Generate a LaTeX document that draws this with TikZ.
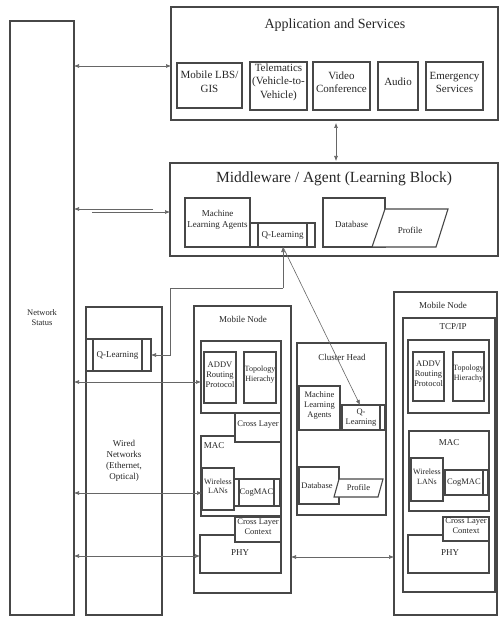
\documentclass[tikz,border=0pt]{standalone}
\usepackage{fontspec}
\setmainfont{Liberation Serif}
\usetikzlibrary{arrows.meta,fit}
\newcommand\fs[2]{\fontsize{#1}{#2}\selectfont}
\tikzset{
 bx/.style={draw=black!72, line width=1.1pt, inner sep=0pt, outer sep=0pt, align=center, fill=white, text=black!85, font=\fs{8.5}{10}},
 con/.style={draw=black!60, line width=0.6pt},
 dar/.style={con, {Latex[length=5pt,width=4pt]}-{Latex[length=5pt,width=4pt]}},
 sar/.style={con, -{Latex[length=5pt,width=4pt]}},
 lbl/.style={inner sep=0pt, text=black!85, align=center, font=\fs{9}{11}},
 ppl/.style={draw=black!72, line width=1.1pt},
 para/.style={draw=black!72, line width=1.1pt, fill=white},
}
\newcommand\bx[7][]{\node[bx,#1,fit={(#3,#4) (#5,#6)}] (#2) {#7};}
\newcommand\pp[3]{\draw[ppl] ([xshift=#2pt]#1.north west) -- ([xshift=#2pt]#1.south west);
  \draw[ppl] ([xshift=-#3pt]#1.north east) -- ([xshift=-#3pt]#1.south east);}
\begin{document}
\begin{tikzpicture}[x=1pt,y=-1pt]
\useasboundingbox (0,0) rectangle (499,617);
% Network status
\bx{ns}{10}{21}{74}{615}{}
\node[lbl,font=\fs{8.5}{10}] (nslab) at (42,318) {Network\\Status};
% Application and services
\bx{app}{171}{7}{498}{120}{}
\node[lbl,font=\fs{14}{16}] (apptitle) at (335,25) {Application and Services};
\bx[font=\fs{11}{13.5}]{lbs}{177}{63}{242}{108}{Mobile LBS/\\GIS}
\bx[font=\fs{11}{13.5}]{tel}{250}{62}{307}{110}{Telematics\\(Vehicle-to-\\Vehicle)}
\bx[font=\fs{11}{13.5}]{vid}{313}{62}{370}{110}{Video\\Conference}
\bx[font=\fs{11}{13.5}]{aud}{378}{62}{418}{110}{Audio}
\bx[font=\fs{11}{13.5}]{emg}{426}{62}{483}{110}{Emergency\\Services}
% Middleware
\bx{mw}{170}{163}{498}{256}{}
\node[lbl,font=\fs{15.5}{18}] (mwtitle) at (334,179) {Middleware / Agent (Learning Block)};
\bx[font=\fs{9}{11}]{mlam}{185}{198}{250}{247}{Machine\\Learning Agents}
\bx{qlm}{250}{223}{315}{247}{}
\pp{qlm}{8}{8}
\node[lbl] (qlmlab) at (282.5,235) {Q-Learning};
\bx{dbm}{323}{198}{385}{247}{}
\node[lbl] (dbmlab) at (351.5,224) {Database};
\draw[para] (385,209) -- (448,209) -- (436,247) -- (372,247) -- cycle;
\node[lbl] (profm) at (410,230) {Profile};
% Wired networks
\bx{wired}{86}{307}{162}{615}{}
\node[lbl,font=\fs{9}{11}] (wiredlab) at (124,461) {Wired\\Networks\\(Ethernet,\\Optical)};
\bx{qlw}{86}{339}{151}{371}{}
\pp{qlw}{7}{9}
\node[lbl] (qlwlab) at (117.5,355) {Q-Learning};
% Left mobile node
\bx{mnL}{194}{306}{291}{593}{}
\node[lbl] (mnLlab) at (243,319) {Mobile Node};
\bx{tcpL}{201}{341}{281}{413}{}
\bx{addvL}{204}{352}{236}{403}{ADDV\\Routing\\Protocol}
\bx[font=\fs{8}{9.5}]{topoL}{244}{352}{276}{403}{Topology\\Hierachy}
\bx{macL}{201}{436}{281}{516}{}
\bx{clL}{235}{413}{281}{442}{Cross Layer}
\node[lbl] (macLlab) at (214,446) {MAC};
\bx{phyL}{200}{535}{281}{573}{}
\node[lbl] (phyLlab) at (240,553) {PHY};
\bx{clcL}{235}{517}{281}{542}{Cross Layer\\Context}
\bx{cogL}{233}{479}{280}{506}{}
\pp{cogL}{6}{6}
\node[lbl,font=\fs{8.5}{10}] (cogLlab) at (256.5,492.5) {CogMAC};
\bx[font=\fs{8}{9.5}]{wlL}{202}{468}{234}{510}{Wireless\\LANs}
% Cluster head
\bx{ch}{297}{343}{386}{515}{}
\node[lbl] (chlab) at (342,357) {Cluster Head};
\bx{qlc}{337}{405}{385}{430}{}
\pp{qlc}{5}{5}
\node[lbl,font=\fs{8.5}{10}] (qlclab) at (361,418) {Q-\\Learning};
\bx[font=\fs{8.5}{10}]{mlac}{299}{386}{340}{430}{Machine\\Learning\\Agents}
\bx{dbc}{299}{467}{339}{504}{}
\node[lbl,font=\fs{8.5}{10}] (dbclab) at (317,486) {Database};
\draw[para] (339,479) -- (383,479) -- (378,497) -- (334,497) -- cycle;
\node[lbl,font=\fs{8.5}{10}] (profc) at (358.5,488) {Profile};
% Right mobile node
\bx{mnR}{394}{292}{497}{615}{}
\node[lbl] (mnRlab) at (443,305) {Mobile Node};
\bx{tcpR}{403}{318}{495}{592}{}
\node[lbl] (tcpRlab) at (453,327) {TCP/IP};
\bx{rtR}{408}{340}{489}{413}{}
\bx{addvR}{413}{352}{444}{401}{ADDV\\Routing\\Protocol}
\bx[font=\fs{8}{9.5}]{topoR}{453}{352}{484}{401}{Topology\\Hierachy}
\bx{macR}{409}{431}{489}{511}{}
\node[lbl] (macRlab) at (449,443) {MAC};
\bx{cogR}{440}{470}{488}{495}{}
\pp{cogR}{5}{5}
\node[lbl,font=\fs{8.5}{10}] (cogRlab) at (464,482.5) {CogMAC};
\bx[font=\fs{8}{9.5}]{wlR}{411}{458}{443}{501}{Wireless\\LANs}
\bx{phyR}{408}{535}{489}{573}{}
\node[lbl] (phyRlab) at (450,553) {PHY};
\bx{clcR}{443}{517}{489}{541}{Cross Layer\\Context}
% Connectors
\draw[dar] (ns.east |- 0,66) -- (app.west |- 0,66);
\draw[dar, shorten <=3pt, shorten >=2pt] (app.south -| 336,0) -- (mw.north -| 336,0);
\draw[sar] (153,209) -- (ns.east |- 0,209);
\draw[sar] (92,212) -- (mw.west |- 0,212);
\coordinate (qj) at (283,288);
\draw[sar] (qj) -- (qlm.south -| qj);
\draw[sar] (qj) -- (170,288) |- (qlw.east);
\draw[sar] (qlm.south -| qj) -- ([xshift=-1pt]qlc.north);
\draw[dar] (ns.east |- 0,382) -- (tcpL.west |- 0,382);
\draw[dar] (ns.east |- 0,493) -- (wlL.west |- 0,493);
\draw[dar] (ns.east |- 0,556) -- (phyL.west |- 0,556);
\draw[dar] (mnL.east |- 0,557) -- (mnR.west |- 0,557);
\end{tikzpicture}
\end{document}
